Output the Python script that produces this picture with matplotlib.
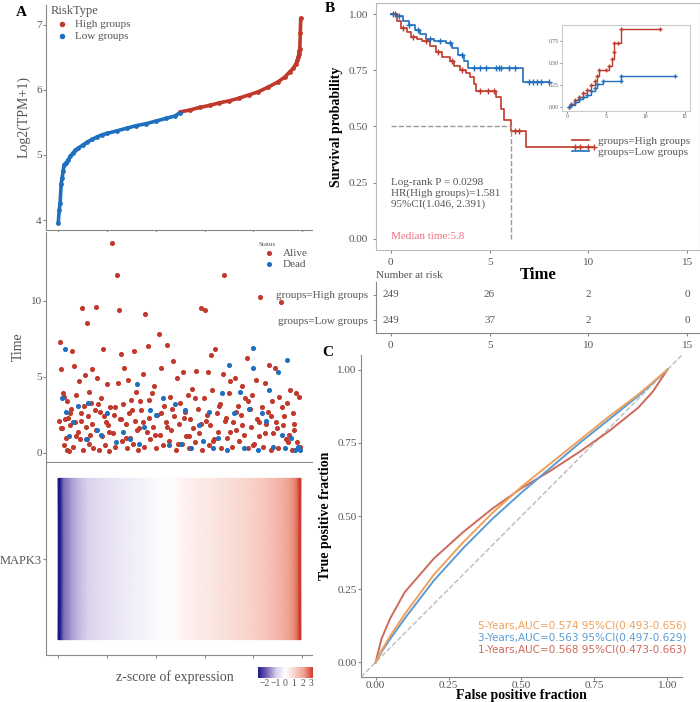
import numpy as np
import matplotlib.pyplot as plt
from matplotlib.colors import LinearSegmentedColormap, TwoSlopeNorm

plt.rcParams['font.family'] = ['Liberation Serif', 'DejaVu Serif']

RED = '#c0392b'
BLUE = '#1f6fbf'
GREY = '#555555'

# ---- panel A: sorted expression ----
expr_idx = [0, 2, 4, 6, 8, 10, 12, 16, 20, 25, 30, 35, 40, 50, 60, 70, 80, 90, 100, 120, 140,
            160, 180, 200, 220, 240, 249,
            250, 270, 290, 310, 330, 350, 370, 390, 410, 430, 450, 465, 475, 482, 487, 490,
            492, 493, 494, 495, 496, 497]
expr_val = [3.95, 4.15, 4.27, 4.55, 4.65, 4.75, 4.85, 4.88, 4.92, 4.98, 5.03, 5.07, 5.1, 5.15,
            5.2, 5.24, 5.28, 5.31, 5.33, 5.37, 5.41, 5.45, 5.48, 5.52, 5.56, 5.6, 5.65,
            5.66, 5.69, 5.73, 5.76, 5.8, 5.83, 5.87, 5.92, 5.97, 6.04, 6.12, 6.2, 6.28, 6.33,
            6.4, 6.45, 6.5, 6.55, 6.6, 6.63, 6.87, 7.1]
n_low = 27  # first 27 entries are the low group

# ---- panel A: survival time by status ----
alive_idx = [2, 4, 6, 8, 9, 11, 13, 15, 18, 19, 21, 23, 25, 27, 29, 31, 33, 35, 37, 40, 42, 44, 46,
             48, 50, 52, 54, 57, 59, 61, 63, 64, 66, 68, 70, 72, 75, 77, 78, 80, 83, 85, 88, 90,
             92, 95, 97, 99, 102, 105, 107, 110, 113, 115, 117, 120, 122, 125, 127, 129, 131,
             133, 135, 138, 140, 143, 146, 148, 150, 153, 156, 158, 160, 163, 166, 168, 170,
             173, 176, 178, 181, 184, 186, 189, 192, 194, 197, 200, 203, 206, 208, 211, 214,
             217, 220, 223, 226, 229, 232, 235, 238, 241, 244, 247, 250, 253, 256, 259, 262,
             265, 268, 271, 274, 277, 280, 283, 286, 289, 292, 295, 298, 300, 303, 306, 309,
             311, 313, 316, 319, 322, 325, 328, 331, 334, 337, 340, 343, 346, 349, 353, 356,
             359, 362, 365, 368, 371, 374, 377, 380, 383, 386, 389, 392, 395, 398, 402, 405,
             408, 411, 414, 417, 420, 423, 426, 429, 432, 435, 438, 441, 444, 447, 450, 453,
             456, 460, 463, 466, 469, 472, 475, 478, 481, 484, 487, 490, 493, 496,
             5, 12, 24, 36, 47, 58, 69, 81, 93, 104, 116, 128, 139, 151, 162, 174, 187, 199,
             210, 222, 233, 245, 257, 269, 281, 293, 305, 317, 329, 341, 352, 364, 376, 388,
             400, 412, 424, 436, 448, 459, 471, 483, 494]
alive_t = [2.1, 7.3, 5.5, 1.6, 3.9, 0.5, 2.2, 1.0, 0.2, 3.4, 2.3, 0.1, 1.8, 2.9, 6.7, 0.4, 5.7,
           2.0, 3.8, 1.4, 4.7, 0.9, 2.6, 9.5, 0.2, 3.1, 5.1, 1.7, 8.5, 2.4, 0.6, 4.0, 1.2,
           3.3, 5.5, 0.3, 2.8, 9.6, 1.5, 4.9, 0.2, 2.7, 3.6, 1.1, 6.8, 0.5, 2.0, 4.5, 1.8, 0.1,
           3.0, 13.8, 1.3, 2.5, 0.4, 11.7, 4.6, 9.4, 2.2, 6.5, 0.8, 3.2, 5.6, 1.9, 0.3, 4.8,
           2.6, 1.0, 3.5, 0.6, 6.7, 2.1, 4.0, 0.2, 1.6, 3.4, 2.8, 5.2, 0.4, 9.1, 1.4, 7.0,
           2.3, 0.9, 3.9, 1.7, 4.4, 0.3, 2.5, 7.8, 1.2, 5.6, 0.5, 3.1, 2.0, 7.1, 0.8, 3.7,
           1.5, 6.0, 2.4, 0.2, 4.9, 1.9, 3.3, 0.6, 5.3, 2.7, 1.1, 3.8, 0.3, 2.2, 4.2, 1.6,
           0.7, 5.4, 2.9, 1.3, 9.5, 0.2, 3.6, 9.4, 2.1, 5.3, 0.5, 1.8, 6.4, 4.1, 0.9, 6.8,
           2.6, 1.4, 3.2, 0.3, 5.2, 11.7, 2.3, 1.0, 3.9, 4.7, 0.4, 2.0, 4.9, 1.5, 3.1,
           0.8, 2.5, 4.4, 1.2, 3.6, 6.2, 0.3, 2.9, 1.7, 3.8, 0.6, 4.8, 2.2, 1.1, 10.2, 3.0,
           0.4, 4.6, 1.9, 2.7, 5.8, 0.2, 3.4, 1.3, 5.6, 2.0, 0.3, 3.7, 9.9, 1.8, 2.4, 0.9,
           3.3, 1.2, 4.1, 0.2, 2.6, 1.5, 3.9, 0.7, 3.7,
           0.4, 1.6, 3.7, 2.6, 1.1, 2.1, 0.9, 1.9, 3.2, 2.4, 1.4, 3.0, 2.2, 1.0, 2.8, 1.5,
           2.0, 3.5, 1.2, 2.6, 1.7, 2.9, 0.6, 2.3, 1.1, 3.6, 1.9, 2.5, 0.8, 3.1, 2.1, 1.4,
           2.7, 1.8, 3.4, 0.5, 2.0, 1.3, 2.4, 1.6, 3.0, 0.7, 1.9]
dead_idx = [8, 14, 17, 22, 30, 41, 56, 62, 79, 88, 100, 118, 132, 147, 161, 165, 176, 188,
            200, 214, 226, 240, 252, 260, 272, 288, 296, 308, 318, 327, 336, 345, 350, 360,
            372, 381, 390, 399, 400, 410, 418, 425, 431, 440, 451, 458, 465, 469, 477, 485,
            492, 496]
dead_t = [3.6, 6.8, 2.7, 1.1, 2.0, 3.1, 0.9, 3.3, 1.5, 1.2, 2.6, 0.7, 1.4, 0.9, 4.5, 0.6,
          1.7, 2.8, 2.5, 3.6, 0.5, 3.2, 0.6, 2.8, 0.3, 1.8, 0.8, 2.7, 0.3, 1.0, 3.9, 0.2,
          5.8, 2.6, 4.0, 0.3, 2.9, 5.6, 6.9, 0.2, 2.6, 2.1, 4.1, 0.4, 5.3, 1.2, 0.3, 6.1,
          1.0, 0.2, 0.4, 0.2]

# ---- panel B: Kaplan-Meier ----
km_high_t = [0, 0.3, 0.5, 0.8, 1.0, 1.3, 1.6, 2.0, 2.3, 2.6, 3.0, 3.2, 3.5, 3.8, 4.0, 4.2,
             4.3, 5.3, 5.6, 5.75, 6.1, 6.85, 10.3]
km_high_s = [1.0, 0.97, 0.94, 0.92, 0.90, 0.89, 0.88, 0.86, 0.83, 0.81, 0.79, 0.77, 0.75,
             0.74, 0.72, 0.69, 0.66, 0.63, 0.58, 0.53, 0.48, 0.41, 0.41]
km_low_t = [0, 0.3, 0.6, 0.9, 1.2, 1.5, 1.8, 2.2, 2.8, 3.1, 3.4, 3.7, 3.9, 6.7, 8.0]
km_low_s = [1.0, 0.99, 0.97, 0.95, 0.93, 0.91, 0.89, 0.88, 0.87, 0.85, 0.82, 0.79, 0.76,
            0.70, 0.70]
cens_high_t = [0.2, 0.6, 1.1, 1.8, 2.4, 3.1, 3.6, 4.5, 4.9, 5.2, 6.3, 6.5, 9.3, 9.6, 10.0, 10.3]
cens_low_t = [0.1, 0.4, 0.9, 1.4, 2.0, 2.5, 3.0, 3.6, 4.2, 4.5, 4.8, 5.3, 5.5, 5.6, 6.0,
              6.3, 7.0, 7.2, 7.4, 7.6, 8.0]
risk_times = [0, 5, 10, 15]
risk_high = [249, 26, 2, 0]
risk_low = [249, 37, 2, 0]

# inset: cumulative events
cum_high_t = [0.2, 0.5, 1.0, 1.5, 2.0, 2.5, 3.0, 3.5, 3.8, 4.0, 5.0, 5.3, 5.7, 5.9, 6.0,
              6.5, 6.9, 11.8]
cum_high_v = [0.0, 0.04, 0.08, 0.12, 0.16, 0.2, 0.25, 0.3, 0.36, 0.42, 0.42, 0.47, 0.55,
              0.62, 0.73, 0.73, 0.88, 0.88]
cum_low_t = [0.2, 0.5, 1.0, 1.5, 2.0, 2.5, 3.0, 3.5, 3.8, 4.5, 6.8, 6.9, 13.8]
cum_low_v = [0.0, 0.03, 0.06, 0.09, 0.12, 0.14, 0.18, 0.22, 0.27, 0.30, 0.30, 0.36, 0.36]

# ---- panel C: ROC ----
roc_fpr = [0, 0.02, 0.05, 0.1, 0.2, 0.3, 0.4, 0.5, 0.6, 0.7, 0.8, 0.9, 0.95, 1.0]
roc_1y = [0, 0.08, 0.15, 0.24, 0.355, 0.445, 0.525, 0.595, 0.655, 0.72, 0.79, 0.87, 0.925, 1.0]
roc_3y = [0, 0.035, 0.08, 0.15, 0.28, 0.39, 0.49, 0.58, 0.665, 0.75, 0.83, 0.91, 0.955, 1.0]
roc_5y = [0, 0.04, 0.09, 0.165, 0.3, 0.41, 0.51, 0.6, 0.68, 0.76, 0.84, 0.915, 0.957, 1.0]
roc_labels = ['5-Years,AUC=0.574 95%CI(0.493-0.656)',
              '3-Years,AUC=0.563 95%CI(0.497-0.629)',
              '1-Years,AUC=0.568 95%CI(0.473-0.663)']

W, H = 700, 702
fig = plt.figure(figsize=(7, 7.02), dpi=100)


def add_ax(x0, y0, x1, y1):
    # pixel box -> figure axes
    return fig.add_axes([x0 / W, 1 - y1 / H, (x1 - x0) / W, (y1 - y0) / H])


def style(ax):
    for s in ['top', 'right']:
        ax.spines[s].set_visible(False)
    for s in ['left', 'bottom']:
        ax.spines[s].set_color('#888888')
    ax.tick_params(colors='#888888', labelcolor=GREY, labelsize=8, length=2, pad=1)


def step_at(ts, xs, ys):
    # survival value of a step curve at each time
    return [ys[np.searchsorted(xs, t, side='right') - 1] for t in ts]


# A top
ax1 = add_ax(46, 5, 312, 230)
style(ax1)
ax1.plot(expr_idx[:n_low], expr_val[:n_low], color=BLUE, lw=2.6, solid_capstyle='round')
ax1.plot(expr_idx[n_low:], expr_val[n_low:], color=RED, lw=2.6, solid_capstyle='round')
ax1.scatter(expr_idx[n_low:], expr_val[n_low:], color=RED, s=6, zorder=3, label='High groups')
ax1.scatter(expr_idx[:n_low], expr_val[:n_low], color=BLUE, s=6, zorder=3, label='Low groups')
ax1.set_xlim(-25, 520)
ax1.set_ylim(3.85, 7.3)
ax1.set_yticks([4, 5, 6, 7])
ax1.set_xticks([0, 100, 200, 300, 400, 500])
ax1.set_xticklabels([])
ax1.set_ylabel('Log2(TPM+1)', color=GREY, fontsize=10)
leg = ax1.legend(loc='upper left', title='RiskType', frameon=False, fontsize=8,
                 handletextpad=0.2, borderaxespad=0.0, labelspacing=0.2,
                 bbox_to_anchor=(0.0, 1.02), markerscale=1.2)
leg._legend_box.align = 'left'
leg.get_title().set_color(GREY)
leg.get_title().set_fontsize(9)
for t in leg.get_texts():
    t.set_color(GREY)
fig.text(16 / W, 1 - 12 / H, 'A', fontsize=11, fontweight='bold', va='center')

# A middle
n_a = min(len(alive_idx), len(alive_t))
n_d = min(len(dead_idx), len(dead_t))
ax2 = add_ax(46, 232, 312, 462)
style(ax2)
ax2.scatter(alive_idx[:n_a], alive_t[:n_a], color=RED, s=7, label='Alive')
ax2.scatter(dead_idx[:n_d], dead_t[:n_d], color=BLUE, s=7, label='Dead')
ax2.set_xlim(-25, 520)
ax2.set_ylim(-0.6, 14.5)
ax2.set_yticks([0, 5, 10])
ax2.set_xticks([0, 100, 200, 300, 400, 500])
ax2.set_xticklabels([])
ax2.set_ylabel('Time', color=GREY, fontsize=10)
leg2 = ax2.legend(loc='upper right', title='Status', frameon=False, fontsize=8,
                  handletextpad=0.2, labelspacing=0.1, bbox_to_anchor=(1.02, 1.0))
leg2._legend_box.align = 'left'
leg2.get_title().set_fontsize(5)
leg2.get_title().set_color(GREY)
for t in leg2.get_texts():
    t.set_color(GREY)

# A bottom heatmap
ax3 = add_ax(46, 463, 312, 655)
style(ax3)
zs = (np.array(expr_val) - np.mean(expr_val)) / np.std(expr_val)
cmap = LinearSegmentedColormap.from_list('bwr2', ['#1a1a8a', '#7b68b5', '#d9d0ea', '#ffffff',
                                                  '#f9d3cb', '#f0a090', '#d03a2c'])
lo, hi = -1.6, 1.5
norm = TwoSlopeNorm(vmin=lo, vcenter=0, vmax=hi)
X, Y = np.meshgrid(expr_idx, [0.08, 0.92])
ax3.pcolormesh(X, Y, np.clip(np.vstack([zs, zs]), lo, hi), cmap=cmap, norm=norm,
               shading='gouraud')
ax3.set_xlim(-25, 520)
ax3.set_ylim(0, 1)
ax3.set_xticks([0, 100, 200, 300, 400, 500])
ax3.set_xticklabels([])
ax3.set_yticks([0.5])
ax3.set_yticklabels(['MAPK3'], fontsize=9)
fig.text(175 / W, 1 - 677 / H, 'z-score of expression', fontsize=10, color=GREY,
         ha='center', va='center')
cax = add_ax(258, 667, 313, 678)
cb_norm = TwoSlopeNorm(vmin=-2.7, vcenter=0, vmax=3.2)
cb = fig.colorbar(plt.cm.ScalarMappable(norm=cb_norm, cmap=cmap), cax=cax, orientation='horizontal')
cb.outline.set_visible(False)
cb.set_ticks([-2, -1, 0, 1, 2, 3])
cax.tick_params(labelsize=7, colors=GREY, length=0, pad=1)

# B: Kaplan-Meier
ax4 = add_ax(376, 3, 700, 250)
for s in ax4.spines.values():
    s.set_color('#bbbbbb')
ax4.tick_params(colors='#888888', labelcolor=GREY, labelsize=8, length=2)
ax4.step(km_high_t, km_high_s, where='post', color=RED, lw=1.2, label='groups=High groups')
ax4.step(km_low_t, km_low_s, where='post', color=BLUE, lw=1.2, label='groups=Low groups')
ax4.plot(cens_high_t, step_at(cens_high_t, km_high_t, km_high_s), '+', color=RED, ms=5)
ax4.plot(cens_low_t, step_at(cens_low_t, km_low_t, km_low_s), '+', color=BLUE, ms=5)
ax4.plot([0, 6.1, 6.1], [0.5, 0.5, 0], ls='--', color='#999999', lw=1)
ax4.set_xlim(-0.75, 15.65)
ax4.set_ylim(-0.05, 1.05)
ax4.set_xticks([0, 5, 10, 15])
ax4.set_yticks([0, 0.25, 0.5, 0.75, 1.0])
ax4.set_yticklabels(['0.00', '0.25', '0.50', '0.75', '1.00'])
ax4.set_xlabel('Time', fontsize=12, fontweight='bold', labelpad=0)
ax4.set_ylabel('Survival probability', fontsize=10, fontweight='bold')
ax4.legend(loc='center right', bbox_to_anchor=(1.0, 0.42), frameon=False, fontsize=8,
           handlelength=1.5, labelspacing=0.1, labelcolor=GREY)
ax4.text(0, 0.27, 'Log-rank P = 0.0298\nHR(High groups)=1.581\n95%CI(1.046, 2.391)',
         fontsize=8, color=GREY, va='top', linespacing=1.15)
ax4.text(0, 0.01, 'Median time:5.8', fontsize=8, color='#f07080', va='center')
fig.text(325 / W, 1 - 9 / H, 'B', fontsize=11, fontweight='bold', va='center')

# inset
ax5 = add_ax(562, 25, 690, 111)
for s in ax5.spines.values():
    s.set_color('#cccccc')
ax5.step(cum_high_t, cum_high_v, where='post', color=RED, lw=1)
ax5.step(cum_low_t, cum_low_v, where='post', color=BLUE, lw=1)
ax5.plot(cum_high_t, cum_high_v, '+', color=RED, ms=3)
ax5.plot(cum_low_t, cum_low_v, '+', color=BLUE, ms=3)
ax5.set_xlim(-0.7, 15.7)
ax5.set_ylim(-0.04, 0.93)
ax5.set_xticks([0, 5, 10, 15])
ax5.set_yticks([0, 0.25, 0.5, 0.75])
ax5.set_yticklabels(['0.00', '0.25', '0.50', '0.75'])
ax5.tick_params(labelsize=4, colors='#888888', labelcolor=GREY, length=1.5, pad=1)

# risk table
ax6 = add_ax(376, 282, 700, 333)
ax6.spines['top'].set_visible(False)
ax6.spines['right'].set_visible(False)
for s in ['left', 'bottom']:
    ax6.spines[s].set_color('#888888')
ax6.set_xlim(-0.75, 15.65)
ax6.set_ylim(0, 2)
for t, a, b in zip(risk_times, risk_high, risk_low):
    ax6.text(t, 1.5, str(a), fontsize=8, color=GREY, ha='center', va='center')
    ax6.text(t, 0.5, str(b), fontsize=8, color=GREY, ha='center', va='center')
ax6.set_yticks([1.5, 0.5])
ax6.set_yticklabels(['groups=High groups', 'groups=Low groups'], fontsize=8, color=GREY)
ax6.set_xticks(risk_times)
ax6.tick_params(colors='#888888', labelcolor=GREY, labelsize=8, length=2)
ax6.text(-0.75, 2.25, 'Number at risk', fontsize=8, color=GREY, va='center')

# C: ROC
ax7 = add_ax(361, 355, 682, 677)
style(ax7)
ax7.plot([-0.05, 1.05], [-0.05, 1.05], ls='--', color='#bbbbbb', lw=1)
ax7.plot(roc_fpr, roc_1y, color='#cd6a5c', lw=1.4)
ax7.plot(roc_fpr, roc_3y, color='#5b9bd5', lw=1.4)
ax7.plot(roc_fpr, roc_5y, color='#f0a05a', lw=1.4)
ax7.set_xlim(-0.05, 1.05)
ax7.set_ylim(-0.05, 1.05)
ticks = [0, 0.25, 0.5, 0.75, 1.0]
ax7.set_xticks(ticks)
ax7.set_yticks(ticks)
ax7.set_xticklabels(['0.00', '0.25', '0.50', '0.75', '1.00'])
ax7.set_yticklabels(['0.00', '0.25', '0.50', '0.75', '1.00'])
ax7.set_xlabel('False positive fraction', fontsize=10, fontweight='bold', labelpad=-1)
ax7.set_ylabel('True positive fraction', fontsize=10, fontweight='bold')
for i, (lab, c) in enumerate(zip(roc_labels, ['#f0a05a', '#5b9bd5', '#cd6a5c'])):
    ax7.text(0.35, 0.125 - i * 0.04, lab, color=c, fontsize=7.5, family='DejaVu Sans', va='center')
fig.text(322 / W, 1 - 352 / H, 'C', fontsize=11, fontweight='bold', va='center')

fig.savefig('out.png', dpi=100)
